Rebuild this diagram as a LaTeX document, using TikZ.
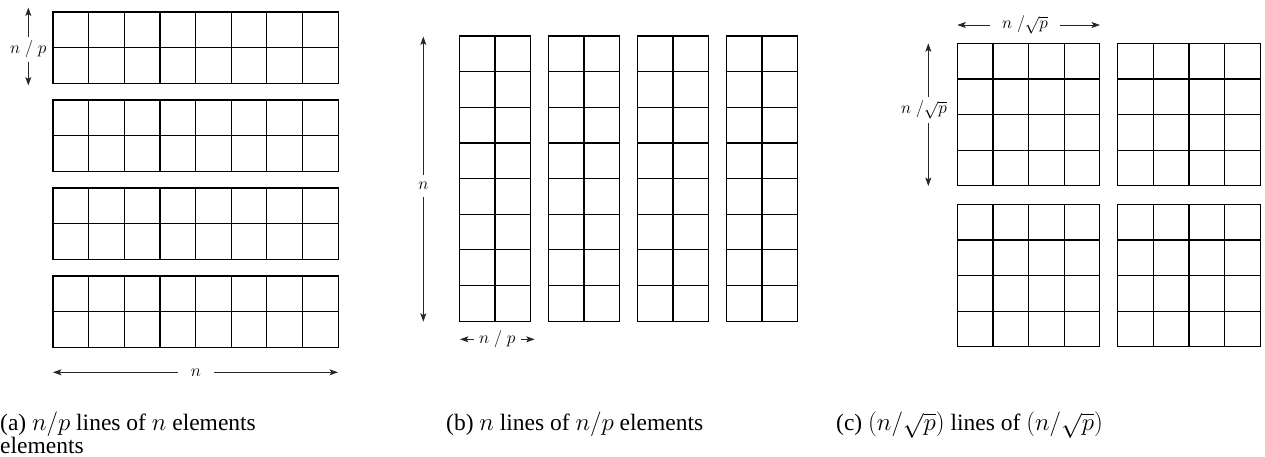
\documentclass[tikz,border=0pt]{standalone}
\usepackage{fontspec}
\setmainfont{Liberation Serif}
\usetikzlibrary{arrows.meta}
\tikzset{
  gridline/.style={line width=1.1pt, black},
  dimarrow/.style={line width=0.9pt, black!85, -{Stealth[length=8.5pt,width=6pt,inset=2pt]}},
  dimlabel/.style={inner sep=0pt, font=\fontsize{17}{19}\selectfont},
  capt/.style={anchor=base west, inner sep=0pt, align=left, font=\fontsize{23.5}{23}\selectfont},
}
\def\cw{35.65}
\newcommand\blockgrid[4]{%
  \draw[gridline] (#1,#2) rectangle ({#1+#3*\cw},{#2+#4*\cw});
  \foreach \i in {1,...,\numexpr#3-1\relax}
    \draw[gridline] ({#1+\i*\cw},#2) -- ({#1+\i*\cw},{#2+#4*\cw});
  \foreach \j in {1,...,\numexpr#4-1\relax}
    \draw[gridline] (#1,{#2+\j*\cw}) -- ({#1+#3*\cw},{#2+\j*\cw});
}
\begin{document}
\begin{tikzpicture}[x=1pt,y=-1pt]
\useasboundingbox (0,0) rectangle (1265,456);
% (a)
\foreach \y in {12,100,188,276} { \blockgrid{53}{\y}{8}{2} }
\coordinate (avt) at (28.3,7.5);
\coordinate (avb) at (28.3,85.5);
\node[dimlabel, minimum height=25pt] (avl) at (28.3,49.5) {$n\;/\;p$};
\draw[dimarrow] (avl) -- (avt);
\draw[dimarrow] (avl) -- (avb);
\coordinate (ahl) at (53,372.3);
\coordinate (ahr) at (338,372.3);
\node[dimlabel, minimum width=36pt] (ahn) at (196,372.3) {$n$};
\draw[dimarrow] (ahn) -- (ahl);
\draw[dimarrow] (ahn) -- (ahr);
% (b)
\foreach \x in {459.3,548.3,637.3,726.3} { \blockgrid{\x}{36}{2}{8} }
\coordinate (bvt) at (423.3,36.5);
\coordinate (bvb) at (423.3,321.7);
\node[dimlabel, minimum height=22pt] (bvn) at (423.3,186) {$n$};
\draw[dimarrow] (bvn) -- (bvt);
\draw[dimarrow] (bvn) -- (bvb);
\coordinate (bhl) at (460,339.3);
\coordinate (bhr) at (534.7,339.3);
\node[dimlabel, minimum width=46.7pt] (bhl2) at (497.3,339.3) {$n\;/\;p$};
\draw[dimarrow] (bhl2) -- (bhl);
\draw[dimarrow] (bhl2) -- (bhr);
% (c)
\foreach \x in {957.3,1117.7} { \foreach \y in {43.3,204.3} { \blockgrid{\x}{\y}{4}{4} } }
\coordinate (chl) at (957.3,25);
\coordinate (chr) at (1100,25);
\node[dimlabel, minimum width=70pt] (chn) at (1025,25) {$n\;/\sqrt{p}$};
\draw[dimarrow] (chn) -- (chl);
\draw[dimarrow] (chn) -- (chr);
\coordinate (cvt) at (928.3,43.3);
\coordinate (cvb) at (928.3,186);
\node[dimlabel, minimum height=26pt] (cvn) at (924,110) {$n\;/\sqrt{p}$};
\draw[dimarrow] (cvn.north -| cvt) -- (cvt);
\draw[dimarrow] (cvn.south -| cvb) -- (cvb);
% captions
\node[capt] (capa) at (0,453) {(a) $n/p$ lines of $n$ elements\\elements};
\node[capt] (capb) at (446,430) {(b) $n$ lines of $n/p$ elements};
\node[capt] (capc) at (836,430) {(c) $(n/\sqrt{p})$ lines of $(n/\sqrt{p})$};
\end{tikzpicture}
\end{document}
